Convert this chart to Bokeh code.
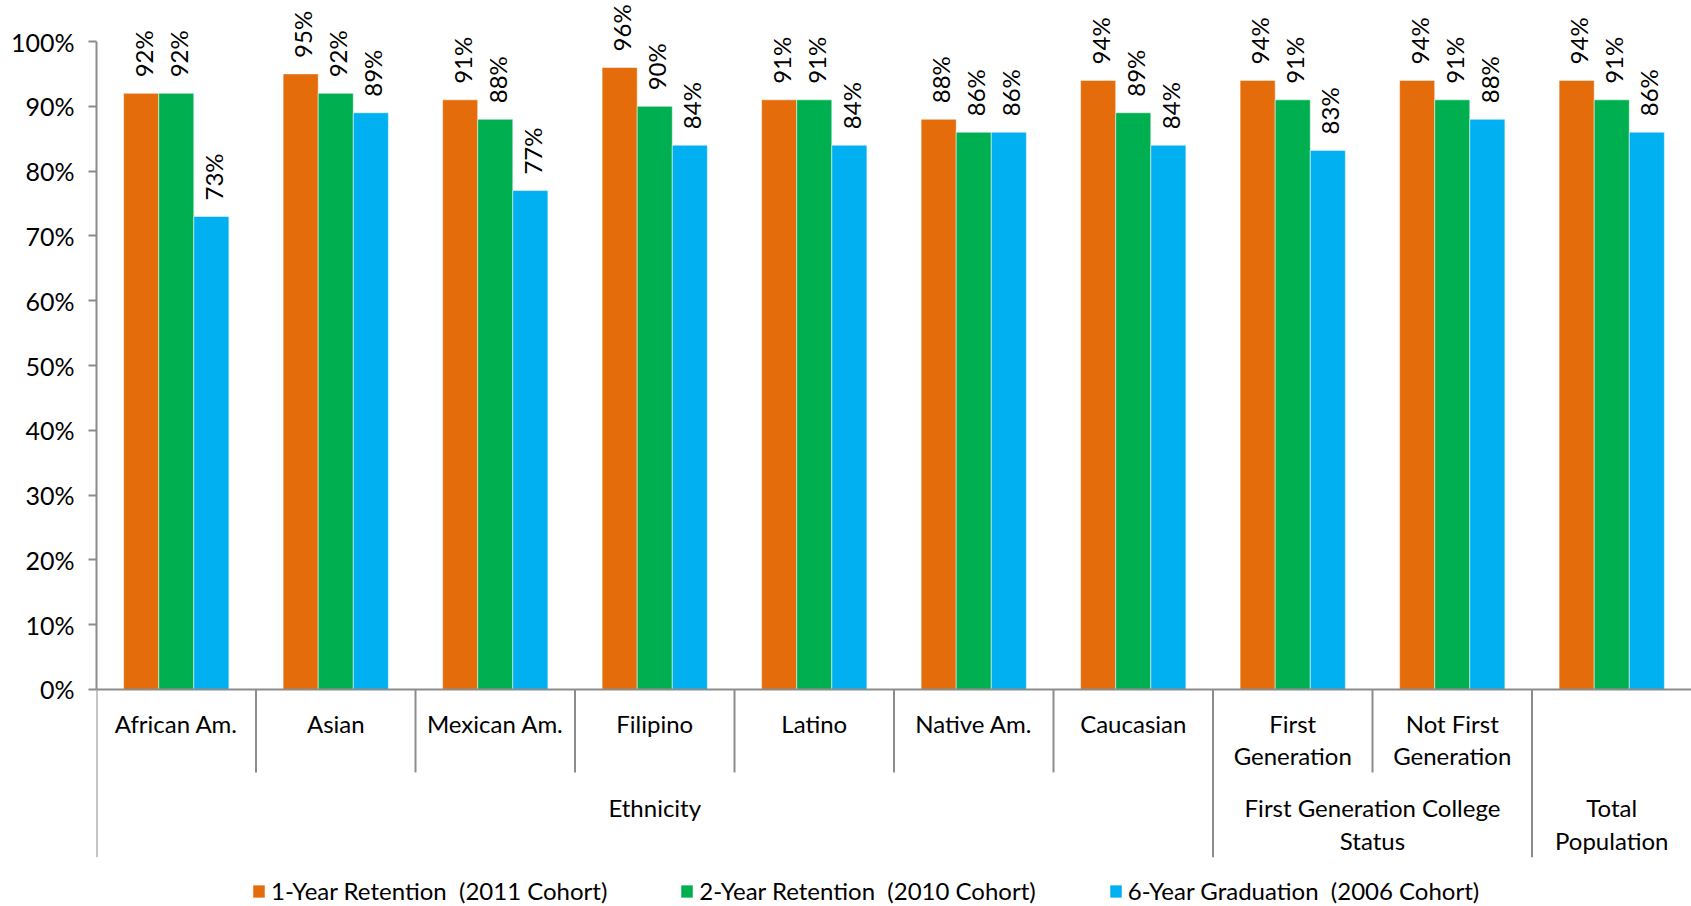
import math
from bokeh.plotting import figure
from bokeh.models import Range1d, Legend, LegendItem, ColumnDataSource, FixedTicker, CustomJSTickFormatter
from bokeh.core.properties import value
from bokeh.embed import file_html
from bokeh.resources import INLINE

# ---- data ----
groups = ["African Am.", "Asian", "Mexican Am.", "Filipino", "Latino", "Native Am.",
          "Caucasian", "First\nGeneration", "Not First\nGeneration", ""]
supergroups = ["Ethnicity", "First Generation College\nStatus", "Total\nPopulation"]
supergroup_sizes = [7, 2, 1]
series = ["1-Year Retention  (2011 Cohort)", "2-Year Retention  (2010 Cohort)",
          "6-Year Graduation  (2006 Cohort)"]
one_year = [92, 95, 91, 96, 91, 88, 94, 94, 94, 94]
two_year = [92, 92, 88, 90, 91, 86, 89, 91, 91, 91]
six_year = [73, 89, 77, 84, 84, 86, 84, 83.2, 88, 86]
y_ticks = [0, 10, 20, 30, 40, 50, 60, 70, 80, 90, 100]

colors = ["#E46C0A", "#00B050", "#00B0F0"]
FONT = "Lato"
FS = "24px"
GRAY = "#8C8C8C"

W, H = 1691, 906
p = figure(width=W, height=H, output_backend="svg", toolbar_location=None,
           x_range=Range1d(0, len(groups)), y_range=Range1d(-33.49, 106.33),
           x_axis_location=None, min_border_left=96, min_border_right=0,
           min_border_top=0, min_border_bottom=0)
p.outline_line_color = None
p.xgrid.visible = False
p.ygrid.visible = False
p.background_fill_color = "white"
p.border_fill_color = "white"

ax = p.yaxis[0]
ax.bounds = (0, 100)
ax.ticker = FixedTicker(ticks=y_ticks)
ax.formatter = CustomJSTickFormatter(code="return tick.toFixed(0) + '%';")
ax.axis_line_color = GRAY
ax.axis_line_width = 2
ax.major_tick_line_color = GRAY
ax.major_tick_line_width = 2
ax.major_tick_out = 8
ax.major_tick_in = 0
ax.minor_tick_line_color = None
ax.major_label_text_font = FONT
ax.major_label_text_font_size = "25px"
ax.major_label_text_color = "black"
ax.major_label_standoff = 14

n = len(groups)
bw = 0.22
offsets = [-bw, 0, bw]
all_vals = [one_year, two_year, six_year]
renderers = []
for k, vals in enumerate(all_vals):
    xs = [i + 0.5 + offsets[k] for i in range(n)]
    src = ColumnDataSource(dict(x=xs, top=vals, lab=["%d%%" % round(v) for v in vals]))
    r = p.vbar(x="x", top="top", width=bw, bottom=0, source=src,
               fill_color=colors[k], line_color="white", line_alpha=0.5, line_width=1)
    renderers.append(r)
    p.text(x="x", y="top", text="lab", source=src, angle=math.pi / 2,
           text_align="left", text_baseline="middle", y_offset=-16, x_offset=2,
           text_font=value(FONT), text_font_size=FS, text_color="black")

# category axis line at 0
p.segment(x0=[0], y0=[0], x1=[n], y1=[0], line_color=GRAY, line_width=2)

L1 = -12.8
L2 = -25.9
bounds2 = [0]
for s in supergroup_sizes:
    bounds2.append(bounds2[-1] + s)
b1 = [i for i in range(n) if i not in bounds2]
p.segment(x0=b1, y0=[0] * len(b1), x1=b1, y1=[L1] * len(b1), line_color=GRAY, line_width=2)
b2 = [b for b in bounds2 if b < n]
p.segment(x0=b2, y0=[0] * len(b2), x1=b2, y1=[L2] * len(b2), line_color=GRAY, line_width=2)

p.text(x=[i + 0.5 for i in range(n)], y=[-3.0] * n, text=groups,
       text_align="center", text_baseline="top", text_line_height=1.12,
       text_font=value(FONT), text_font_size=FS, text_color="black")
sx = [(bounds2[j] + bounds2[j + 1]) / 2 for j in range(len(supergroups))]
p.text(x=sx, y=[-16.0] * len(sx), text=supergroups,
       text_align="center", text_baseline="top", text_line_height=1.12,
       text_font=value(FONT), text_font_size=FS, text_color="black")

legend = Legend(items=[LegendItem(label=series[k], renderers=[renderers[k]]) for k in range(3)],
                orientation="horizontal", location=(155, 1), spacing=72,
                glyph_width=15, glyph_height=16, label_standoff=5, label_height=20,
                padding=0, margin=0, border_line_color=None, background_fill_alpha=0,
                label_text_font=FONT, label_text_font_size=FS, label_text_color="black")
p.add_layout(legend)

open("out.html", "w").write(file_html(p, INLINE))
